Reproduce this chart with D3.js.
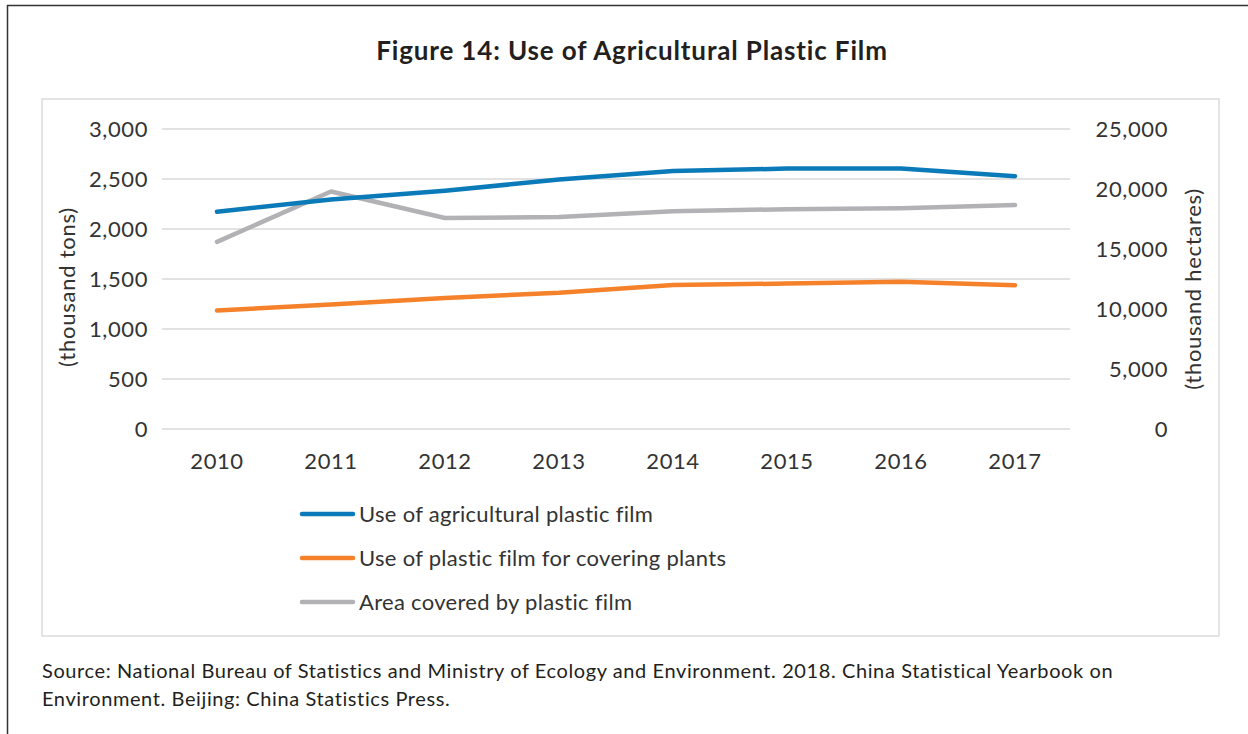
<!DOCTYPE html>
<html><head><meta charset="utf-8">
<script src="https://cdn.jsdelivr.net/npm/d3@7"></script>
<style>body{margin:0;background:#fff;} svg{display:block;} text{font-family:Lato,"Open Sans",sans-serif;}</style>
</head><body>
<svg id="c" width="1248" height="734"></svg>
<script>
const years = ["2010","2011","2012","2013","2014","2015","2016","2017"];
const agriFilm = [2173, 2295, 2383, 2494, 2580, 2604, 2604, 2528];
const coverFilm = [1184, 1246, 1311, 1362, 1441, 1454, 1473, 1437];
const areaCovered = [15596, 19791, 17582, 17660, 18140, 18318, 18401, 18657];
const leftTicks = [0, 500, 1000, 1500, 2000, 2500, 3000];
const rightTicks = [0, 5000, 10000, 15000, 20000, 25000];
const seriesNames = ["Use of agricultural plastic film","Use of plastic film for covering plants","Area covered by plastic film"];
const colors = ["#0a7bb8","#f5822a","#b2b2b6"];

const svg = d3.select("#c");
const fmt = d3.format(",");
// outer frame
svg.append("line").attr("x1",7).attr("x2",1248).attr("y1",5.5).attr("y2",5.5).attr("stroke","#333").attr("stroke-width",1.5);
svg.append("line").attr("x1",7.5).attr("x2",7.5).attr("y1",5).attr("y2",734).attr("stroke","#333").attr("stroke-width",1.5);
// inner box
svg.append("rect").attr("x",42).attr("y",99).attr("width",1177).attr("height",537).attr("fill","none").attr("stroke","#dcdcdc").attr("stroke-width",1.5);
// title
svg.append("text").attr("x",632).attr("y",60).attr("text-anchor","middle").attr("font-size",26).attr("letter-spacing",0.85).attr("font-weight","bold").attr("fill","#231f20").text("Figure 14: Use of Agricultural Plastic Film");

const x = d3.scaleBand().domain(years).range([160,1072]);
const yL = d3.scaleLinear().domain([0,3000]).range([429,129]);
const yR = d3.scaleLinear().domain([0,25000]).range([429,129]);

// gridlines
svg.append("g").selectAll("line").data(leftTicks).join("line")
  .attr("x1",162).attr("x2",1070).attr("y1",d=>yL(d)).attr("y2",d=>yL(d))
  .attr("stroke","#d9d9d9").attr("stroke-width",1.5);

const tc = "#333";
const styleTicks = g => { g.select(".domain").remove();
  g.selectAll("text").attr("font-size",22).attr("letter-spacing",0.6).attr("fill",tc).attr("font-family","Lato"); };
// left axis
svg.append("g").attr("transform","translate(148,0)")
  .call(d3.axisLeft(yL).tickValues(leftTicks).tickFormat(fmt).tickSize(0).tickPadding(0)).call(styleTicks);
// right axis
svg.append("g").attr("transform","translate(1168,0)")
  .call(d3.axisLeft(yR).tickValues(rightTicks).tickFormat(fmt).tickSize(0).tickPadding(0)).call(styleTicks);
// x axis
svg.append("g").attr("transform","translate(0,453)")
  .call(d3.axisBottom(x).tickSize(0).tickPadding(0)).call(styleTicks);

// axis titles
svg.append("text").attr("transform","translate(75,287) rotate(-90)").attr("text-anchor","middle")
  .attr("font-size",22).attr("letter-spacing",0.75).attr("fill",tc).text("(thousand tons)");
svg.append("text").attr("transform","translate(1201,289) rotate(-90)").attr("text-anchor","middle")
  .attr("font-size",22).attr("letter-spacing",0.7).attr("fill",tc).text("(thousand hectares)");

// lines
const cx = d => x(d) + x.bandwidth()/2;
const lineL = d3.line().x((d,i)=>cx(years[i])).y(d=>yL(d));
const lineR = d3.line().x((d,i)=>cx(years[i])).y(d=>yR(d));
const draw = (data, gen, col) => svg.append("path").datum(data).attr("d",gen)
  .attr("fill","none").attr("stroke",col).attr("stroke-width",4.5).attr("stroke-linecap","round").attr("stroke-linejoin","round");
draw(areaCovered, lineR, colors[2]);
draw(coverFilm, lineL, colors[1]);
draw(agriFilm, lineL, colors[0]);

// legend
const lg = svg.append("g");
seriesNames.forEach((n,i)=>{
  const yy = 514 + i*44;
  lg.append("line").attr("x1",302).attr("x2",353).attr("y1",yy).attr("y2",yy)
    .attr("stroke",colors[i]).attr("stroke-width",4.5).attr("stroke-linecap","round");
  lg.append("text").attr("x",359).attr("y",yy+8).attr("font-size",22).attr("letter-spacing",0.3).attr("fill",tc).text(n);
});

// source
const src = svg.append("text").attr("x",42).attr("y",678).attr("font-size",20).attr("letter-spacing",0.6).attr("fill","#231f20");
src.append("tspan").attr("x",42).attr("y",678).text("Source: National Bureau of Statistics and Ministry of Ecology and Environment. 2018. China Statistical Yearbook on");
src.append("tspan").attr("x",42).attr("y",706).text("Environment. Beijing: China Statistics Press.");
</script>
</body></html>
